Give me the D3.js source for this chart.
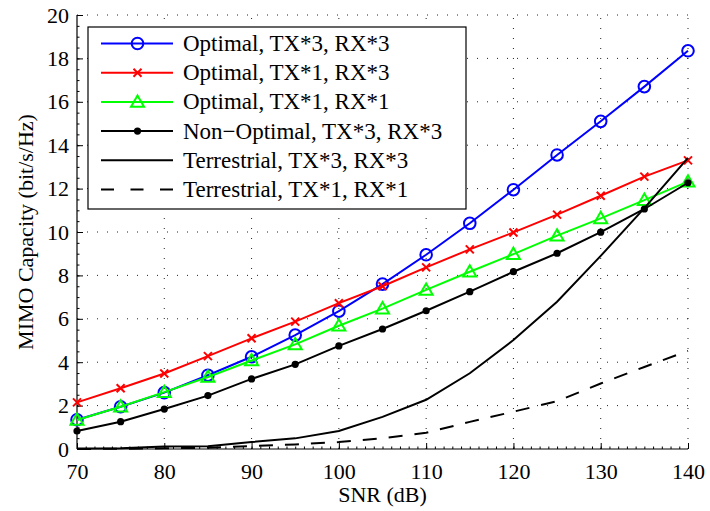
<!DOCTYPE html>
<html>
<head>
<meta charset="utf-8">
<script src="https://cdn.jsdelivr.net/npm/d3@7"></script>
<style>
    body { margin: 0; background: #fff; }
    svg text { font-family: "Liberation Serif", "Times New Roman", serif; fill: #000; }
</style>
</head>
<body>
<div id="chart"></div>
<script>
// SNR values (dB)
const snr = [70, 75, 80, 85, 90, 95, 100, 105, 110, 115, 120, 125, 130, 135, 140];

// capacity series (bit/s/Hz)
const optimal33 = [1.35, 1.95, 2.6, 3.4, 4.25, 5.25, 6.35, 7.6, 8.95, 10.4, 11.95, 13.55, 15.1, 16.7, 18.35];
const optimal13 = [2.15, 2.8, 3.48, 4.28, 5.1, 5.87, 6.72, 7.5, 8.37, 9.2, 9.98, 10.8, 11.67, 12.55, 13.3];
const optimal11 = [1.34, 1.95, 2.62, 3.32, 4.08, 4.82, 5.68, 6.47, 7.33, 8.17, 8.98, 9.83, 10.63, 11.47, 12.32];
const nonOptimal33 = [0.83, 1.26, 1.84, 2.46, 3.23, 3.9, 4.75, 5.53, 6.37, 7.25, 8.17, 9.02, 9.99, 11.06, 12.27];
const terrestrial33 = [0.02, 0.04, 0.12, 0.13, 0.32, 0.49, 0.83, 1.48, 2.27, 3.49, 5.02, 6.79, 8.9, 11.1, 13.42];
const terrestrial11 = [0.0, 0.01, 0.03, 0.06, 0.14, 0.21, 0.32, 0.5, 0.75, 1.25, 1.72, 2.2, 3.02, 3.78, 4.52];

const legendLabels = [
    "Optimal, TX*3, RX*3",
    "Optimal, TX*1, RX*3",
    "Optimal, TX*1, RX*1",
    "Non\u2212Optimal, TX*3, RX*3",
    "Terrestrial, TX*3, RX*3",
    "Terrestrial, TX*1, RX*1"
];

const xTicks = [70, 80, 90, 100, 110, 120, 130, 140];
const yTicks = [0, 2, 4, 6, 8, 10, 12, 14, 16, 18, 20];

const series = [
    { name: legendLabels[0], values: optimal33, color: "#0000ff", marker: "circle" },
    { name: legendLabels[1], values: optimal13, color: "#ff0000", marker: "cross" },
    { name: legendLabels[2], values: optimal11, color: "#00ff00", marker: "triangle" },
    { name: legendLabels[3], values: nonOptimal33, color: "#000000", marker: "dot" },
    { name: legendLabels[4], values: terrestrial33, color: "#000000", marker: null },
    { name: legendLabels[5], values: terrestrial11, color: "#000000", marker: null, dash: "14,12" }
];

const chart = { width: 710, height: 511, left: 77, top: 15, right: 22, bottom: 62 };

const xScale = d3.scaleLinear()
    .domain([70, 140])
    .range([chart.left, chart.width - chart.right]);

const yScale = d3.scaleLinear()
    .domain([0, 20])
    .range([chart.height - chart.bottom, chart.top]);

const svg = d3.select("#chart")
    .append("svg")
    .attr("width", chart.width)
    .attr("height", chart.height);

// dotted grid
let grid = svg.append("g").attr("id", "grid");
grid.selectAll(".gx")
    .data(xTicks.slice(1))
    .join("line")
        .attr("x1", d => xScale(d)).attr("x2", d => xScale(d))
        .attr("y1", yScale(0)).attr("y2", yScale(20))
        .attr("stroke", "#222").attr("stroke-width", 1)
        .attr("stroke-dasharray", "1,9");
grid.selectAll(".gy")
    .data(yTicks.slice(1))
    .join("line")
        .attr("x1", xScale(70)).attr("x2", xScale(140))
        .attr("y1", d => yScale(d)).attr("y2", d => yScale(d))
        .attr("stroke", "#222").attr("stroke-width", 1)
        .attr("stroke-dasharray", "1,9");

// axes, ticks pointing inward
let xAxis = d3.axisBottom(xScale)
    .tickValues(xTicks)
    .tickSize(-6)
    .tickPadding(14)
    .tickFormat(d3.format("d"));

let xMinor = d3.axisBottom(xScale)
    .tickValues(d3.range(70, 141, 1))
    .tickSize(-2.5)
    .tickFormat("");

let yAxis = d3.axisLeft(yScale)
    .tickValues(yTicks)
    .tickSize(-6)
    .tickPadding(8)
    .tickFormat(d3.format("d"));

let yMinor = d3.axisLeft(yScale)
    .tickValues(d3.range(0, 20.01, 0.5))
    .tickSize(-2.5)
    .tickFormat("");

let gx = svg.append("g")
    .attr("transform", `translate(0, ${yScale(0)})`);
gx.append("g").call(xMinor).select(".domain").remove();
gx.append("g").call(xAxis);

let gy = svg.append("g")
    .attr("transform", `translate(${xScale(70)}, 0)`);
gy.append("g").call(yMinor).select(".domain").remove();
gy.append("g").call(yAxis);

svg.selectAll(".tick text")
    .style("font-size", "22px");

gx.select(".domain").attr("d", `M${xScale(70)},0H${xScale(140)}`)
    .attr("stroke-width", 1.2);
gy.select(".domain").attr("d", `M0,${yScale(0)}V${yScale(20)}`)
    .attr("stroke-width", 1.2);

// axis titles
svg.append("text")
    .attr("x", (xScale(70) + xScale(140)) / 2)
    .attr("y", 502)
    .attr("text-anchor", "middle")
    .style("font-size", "22px")
    .text("SNR (dB)");

svg.append("text")
    .attr("transform", `translate(33, ${(yScale(0) + yScale(20)) / 2}) rotate(-90)`)
    .attr("text-anchor", "middle")
    .style("font-size", "22px")
    .text("MIMO Capacity (bit/s/Hz)");

// markers
function drawMarker(g, type, color, x, y) {
    if (type === "circle") {
        g.append("circle").attr("cx", x).attr("cy", y).attr("r", 5.8)
            .attr("fill", "none").attr("stroke", color).attr("stroke-width", 2);
    } else if (type === "cross") {
        let s = 4;
        g.append("path")
            .attr("d", `M${x - s},${y - s}L${x + s},${y + s}M${x - s},${y + s}L${x + s},${y - s}`)
            .attr("stroke", color).attr("stroke-width", 2);
    } else if (type === "triangle") {
        let s = 6.5;
        g.append("path")
            .attr("d", `M${x},${y - s}L${x + s},${y + s * 0.75}L${x - s},${y + s * 0.75}Z`)
            .attr("fill", "none").attr("stroke", color).attr("stroke-width", 2);
    } else if (type === "dot") {
        g.append("circle").attr("cx", x).attr("cy", y).attr("r", 3.6)
            .attr("fill", color);
    }
}

let line = d3.line()
    .x((d, i) => xScale(snr[i]))
    .y(d => yScale(d));

let plot = svg.append("g").attr("id", "lines");

series.forEach(s => {
    let g = plot.append("g");
    g.append("path")
        .attr("d", line(s.values))
        .attr("fill", "none")
        .attr("stroke", s.color)
        .attr("stroke-width", 2)
        .attr("stroke-dasharray", s.dash || null);
    if (s.marker) {
        s.values.forEach((v, i) => drawMarker(g, s.marker, s.color, xScale(snr[i]), yScale(v)));
    }
});

// legend
let legend = svg.append("g").attr("id", "legend");
legend.append("rect")
    .attr("x", 88).attr("y", 27)
    .attr("width", 378).attr("height", 182)
    .attr("fill", "#fff").attr("stroke", "#000").attr("stroke-width", 1.2);

series.forEach((s, i) => {
    let y = 43.5 + i * 29.2;
    let g = legend.append("g");
    g.append("line")
        .attr("x1", 101).attr("x2", 173)
        .attr("y1", y).attr("y2", y)
        .attr("stroke", s.color).attr("stroke-width", 2)
        .attr("stroke-dasharray", s.dash ? "13,16.5" : null);
    if (s.marker) drawMarker(g, s.marker, s.color, 137.5, y);
    g.append("text")
        .attr("x", 183).attr("y", y + 7.5)
        .style("font-size", "23px")
        .text(s.name);
});
</script>
</body>
</html>
